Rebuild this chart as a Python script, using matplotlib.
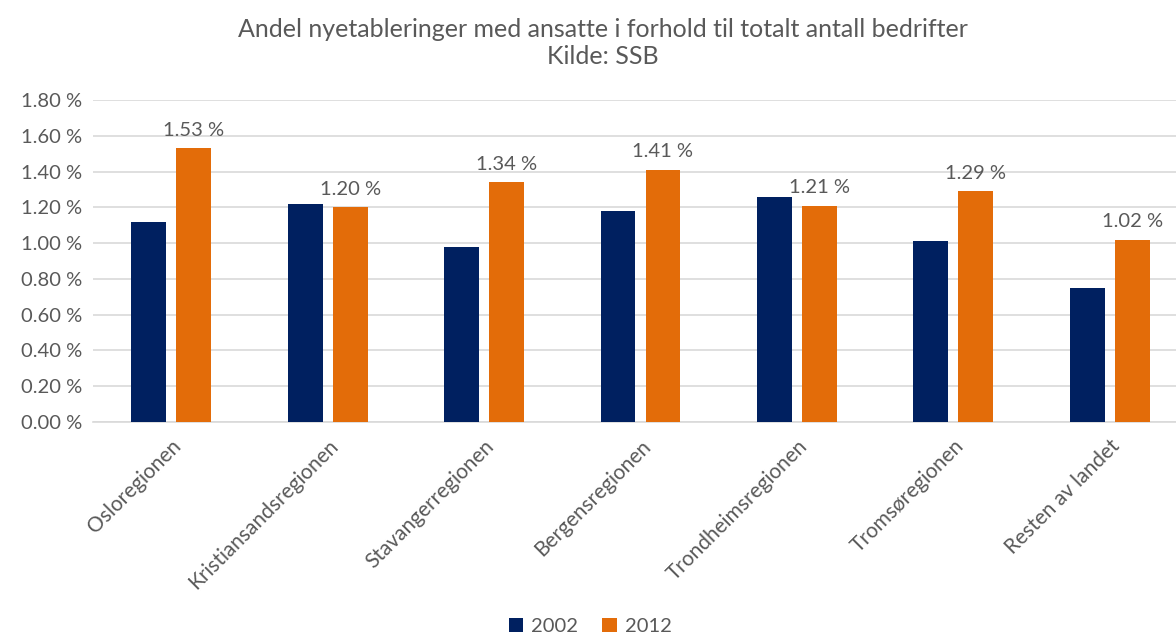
import numpy as np
import matplotlib.pyplot as plt

regions = ['Osloregionen', 'Kristiansandsregionen', 'Stavangerregionen', 'Bergensregionen',
           'Trondheimsregionen', 'Tromsøregionen', 'Resten av landet']
andel_2002 = [1.12, 1.22, 0.98, 1.18, 1.255, 1.01, 0.75]
andel_2012 = [1.53, 1.20, 1.34, 1.41, 1.21, 1.29, 1.02]
yticks = [0.0, 0.2, 0.4, 0.6, 0.8, 1.0, 1.2, 1.4, 1.6, 1.8]

plt.rcParams['font.family'] = ['Lato', 'DejaVu Sans']
txt = '#595959'

fig = plt.figure(figsize=(11.76, 6.37), dpi=100)
ax = fig.add_axes([93 / 1176, 215 / 637, 1095 / 1176, 322 / 637])

x = np.arange(len(regions))
w = 0.223
off = 0.1435
ax.bar(x - off, andel_2002, w, color='#002060', label='2002', zorder=3)
b12 = ax.bar(x + off, andel_2012, w, color='#E36C09', label='2012', zorder=3)

for rect, v in zip(b12, andel_2012):
    ax.annotate(f'{v:.2f} %', (rect.get_x() + rect.get_width() / 2, v),
                xytext=(0, 7), textcoords='offset points',
                ha='center', va='bottom', fontsize=14.5, color=txt)

ax.set_xlim(-0.5, len(regions) - 0.5)
ax.set_ylim(0, 1.8)
ax.set_yticks(yticks)
ax.set_yticklabels([f'{t:.2f} %' for t in yticks], fontsize=14.5, color=txt)
ax.set_xticks(x)
ax.set_xticklabels(regions, rotation=45, ha='right', rotation_mode='anchor',
                   fontsize=15, color=txt)
ax.tick_params(length=0, pad=8)
ax.tick_params(axis='x', pad=10)
ax.grid(axis='y', color='#D9D9D9', linewidth=1.2, zorder=0)
for s in ['top', 'right', 'left']:
    ax.spines[s].set_visible(False)
ax.spines['bottom'].set_color('#D9D9D9')
ax.spines['bottom'].set_linewidth(1.2)

fig.text(0.513, 0.972, 'Andel nyetableringer med ansatte i forhold til totalt antall bedrifter\nKilde: SSB',
         ha='center', va='top', fontsize=18, color=txt, linespacing=1.2)

fig.legend(loc='lower center', bbox_to_anchor=(0.502, -0.025), ncol=2, frameon=False,
           fontsize=14.5, labelcolor=txt, handlelength=0.7, handleheight=0.7,
           handletextpad=0.4, columnspacing=1.2)

fig.savefig('out.png', dpi=100)
